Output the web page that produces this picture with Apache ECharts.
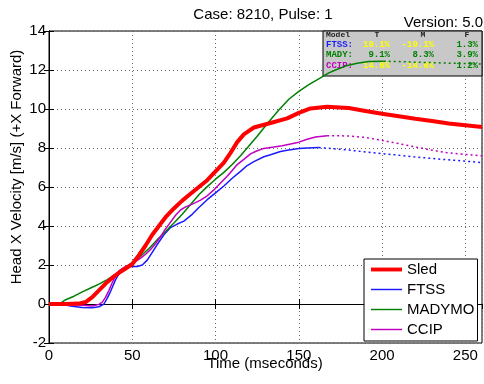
<!DOCTYPE html>
<html>
<head>
<meta charset="utf-8">
<script src="https://cdn.jsdelivr.net/npm/echarts@6/dist/echarts.min.js"></script>
<style>
html,body{margin:0;padding:0;background:#fff;}
#c{width:484px;height:384px;}
</style>
</head>
<body>
<div id="c"></div>
<script>
// ---- data ----
const titleText = 'Case: 8210, Pulse: 1';
const versionText = 'Version: 5.0';
const xName = 'Time (mseconds)';
const yName = 'Head X Velocity [m/s] (+X Forward)';
const legendNames = ['Sled', 'FTSS', 'MADYMO', 'CCIP'];

const sledT = [0,10,18,22,26,30,34,38,42,46,50,54,58,62,66,70,75,80,85,90,95,100,105,109,113,117,123,133,143,150,157,167,180,190,200,210,220,230,240,250,260];
const sledV = [0,0,0.02,0.1,0.35,0.7,1.05,1.35,1.6,1.82,2.05,2.5,3.0,3.55,4.0,4.45,4.9,5.3,5.65,6.0,6.35,6.8,7.25,7.75,8.3,8.7,9.05,9.28,9.52,9.8,10.03,10.12,10.05,9.9,9.76,9.63,9.5,9.38,9.26,9.17,9.08];

const ftssT = [0,10,14,20,26,30,33,35,37,40,43,46,50,53,56,59,62,65,69,73,77,81,86,90,95,100,105,110,115,119,123,129,133,139,143,150,155,162];
const ftssV = [0,-0.05,-0.12,-0.18,-0.19,-0.14,0,0.3,0.65,1.25,1.7,1.88,1.92,1.92,2.0,2.25,2.65,3.05,3.55,3.92,4.1,4.25,4.6,4.95,5.35,5.7,6.05,6.45,6.8,7.1,7.3,7.55,7.65,7.82,7.88,7.97,8.0,8.02];
const ftssDotT = [162,169,179,189,199,209,219,229,239,249,260];
const ftssDotV = [8.02,7.98,7.9,7.81,7.72,7.64,7.55,7.47,7.4,7.33,7.25];

const madyT = [0,5,7,10,15,20,25,30,35,40,45,50,55,60,65,70,75,80,85,90,95,100,105,110,115,120,125,132,138,144,150,156,162,168,172,178,185,192,201];
const madyV = [0,0,0.05,0.22,0.4,0.62,0.82,1.02,1.25,1.52,1.8,2.09,2.45,2.85,3.3,3.72,4.15,4.6,5.1,5.6,6.02,6.4,6.75,7.15,7.6,8.1,8.6,9.35,9.95,10.5,10.9,11.25,11.55,11.85,12.0,12.2,12.35,12.43,12.45];
const madyDotT = [201,210,220,230,240,250,260];
const madyDotV = [12.45,12.43,12.4,12.38,12.35,12.33,12.3];

const ccipT = [0,10,20,26,30,32,34,36,38,40,42,45,48,51,55,58,61,64,67,70,73,76,79,82,85,88,91,95,99,103,107,110,113,117,121,125,129,135,140,145,150,155,160,167];
const ccipV = [0,-0.03,-0.07,-0.1,-0.02,0.1,0.35,0.7,1.1,1.45,1.7,1.88,2.0,2.12,2.35,2.55,2.8,3.1,3.45,3.85,4.2,4.55,4.82,4.98,5.08,5.2,5.33,5.55,5.85,6.2,6.55,6.85,7.15,7.42,7.7,7.86,7.98,8.05,8.12,8.2,8.3,8.45,8.56,8.63];
const ccipDotT = [167,179,189,199,209,219,229,239,249,260];
const ccipDotV = [8.63,8.62,8.55,8.41,8.24,8.07,7.9,7.76,7.68,7.6];

const tableHeader = ['Model', 'T', 'M', 'F'];
const tableRows = [
  ['FTSS:', '19.1%', '-19.1%', '1.3%'],
  ['MADY:', '9.1%', '8.3%', '3.9%'],
  ['CCIP:', '14.6%', '-14.6%', '1.2%']
];

// ---- styling ----
const RED = '#ff0000', BLUE = '#1a1aff', GREEN = '#008000', MAG = '#c000c0', YEL = '#ffff00';
const FONT = 'Liberation Sans, Arial, sans-serif';
const MONO = 'Liberation Mono, Courier New, monospace';
const zip = (t, v) => t.map((x, i) => [x, v[i]]);

const rowColors = [
  [BLUE, YEL, YEL, GREEN],
  [GREEN, GREEN, GREEN, GREEN],
  [MAG, YEL, YEL, GREEN]
];

const tbl = { x: 323, y: 31, w: 159, h: 45 };
const colX = [326, 390, 434, 478];
const hdrX = [326, 377, 423, 467];
const rowY = [34.5, 44.5, 55, 65.5];

const graphic = [
  { type: 'rect', z: 1, shape: { x: tbl.x, y: tbl.y, width: tbl.w, height: tbl.h },
    style: { fill: '#c8c8c8', stroke: '#000', lineWidth: 1 } }
];
tableHeader.forEach((h, i) => graphic.push({
  type: 'text', z: 1, x: hdrX[i], y: rowY[0],
  style: { text: h, fill: '#222', font: 'bold 8px ' + MONO, textAlign: i === 0 ? 'left' : 'center', textVerticalAlign: 'middle' }
}));
tableRows.forEach((r, ri) => r.forEach((cell, ci) => graphic.push({
  type: 'text', z: 1, x: colX[ci], y: rowY[ri + 1],
  style: { text: cell, fill: rowColors[ri][ci], font: 'bold 9px ' + MONO, textAlign: ci === 0 ? 'left' : 'right', textVerticalAlign: 'middle' }
})));
graphic.push(
  { type: 'text', x: 263, y: 15, style: { text: titleText, fill: '#000', font: '15px ' + FONT, textAlign: 'center', textVerticalAlign: 'middle' } },
  { type: 'text', x: 483, y: 22.5, style: { text: versionText, fill: '#000', font: '15px ' + FONT, textAlign: 'right', textVerticalAlign: 'middle' } },
  { type: 'text', x: 265, y: 364, style: { text: xName, fill: '#000', font: '15px ' + FONT, textAlign: 'center', textVerticalAlign: 'middle' } },
  { type: 'text', x: 17, y: 167, rotation: Math.PI / 2, style: { text: yName, fill: '#000', font: '15px ' + FONT, textAlign: 'center', textVerticalAlign: 'middle' } }
);

const axisCommon = {
  axisLine: { show: true, lineStyle: { color: '#000', width: 1 } },
  axisTick: { show: true, inside: true, length: 5, lineStyle: { color: '#000' } }
};
const splitDot = { show: true, lineStyle: { color: '#666', type: [1, 3], width: 1 } };

const thickIcon = 'path://M0,0H32V4H0Z';
const thinIcon = 'path://M0,0H32V1.5H0Z';

const chart = echarts.init(document.getElementById('c'), null, { renderer: 'canvas' });
chart.setOption({
  animation: false,
  backgroundColor: '#fff',
  grid: { left: 49, right: 2, top: 31, bottom: 41, show: true, backgroundColor: '#fff', borderColor: '#000', borderWidth: 1 },
  xAxis: [
    Object.assign({ type: 'value', min: 0, max: 260, interval: 50, position: 'bottom',
      axisLabel: { color: '#000', fontSize: 15, fontFamily: FONT, margin: 5, showMaxLabel: false },
      splitLine: splitDot }, axisCommon),
    Object.assign({ type: 'value', min: 0, max: 260, interval: 50, position: 'top',
      axisLabel: { show: false }, splitLine: { show: false } }, axisCommon)
  ],
  yAxis: [
    Object.assign({ type: 'value', min: -2, max: 14, interval: 2, position: 'left',
      axisLabel: { color: '#000', fontSize: 15, fontFamily: FONT, margin: 3 },
      splitLine: splitDot }, axisCommon),
    Object.assign({ type: 'value', min: -2, max: 14, interval: 2, position: 'right',
      axisLabel: { show: false }, splitLine: { show: false } }, axisCommon)
  ],
  legend: {
    left: 364, top: 259, orient: 'vertical',
    backgroundColor: '#fff', borderColor: '#000', borderWidth: 1, borderRadius: 0,
    padding: [3, 3, 4, 7], itemGap: 5, itemWidth: 31, itemHeight: 14,
    symbolKeepAspect: true,
    textStyle: { color: '#000', fontSize: 15, fontFamily: FONT },
    data: [
      { name: legendNames[0], icon: thickIcon },
      { name: legendNames[1], icon: thinIcon },
      { name: legendNames[2], icon: thinIcon },
      { name: legendNames[3], icon: thinIcon }
    ]
  },
  graphic: graphic,
  series: [
    { name: 'FTSS', type: 'line', symbol: 'none', z: 3, color: BLUE, lineStyle: { color: BLUE, width: 1.5 }, data: zip(ftssT, ftssV) },
    { name: 'FTSS ext', type: 'line', symbol: 'none', z: 3, color: BLUE, lineStyle: { color: BLUE, width: 1.5, type: [2, 3] }, data: zip(ftssDotT, ftssDotV) },
    { name: 'MADYMO', type: 'line', symbol: 'none', z: 3, color: GREEN, lineStyle: { color: GREEN, width: 1.5 }, data: zip(madyT, madyV) },
    { name: 'MADYMO ext', type: 'line', symbol: 'none', z: 3, color: GREEN, lineStyle: { color: GREEN, width: 1.5, type: [2, 3] }, data: zip(madyDotT, madyDotV) },
    { name: 'CCIP', type: 'line', symbol: 'none', z: 3, color: MAG, lineStyle: { color: MAG, width: 1.5 }, data: zip(ccipT, ccipV) },
    { name: 'CCIP ext', type: 'line', symbol: 'none', z: 3, color: MAG, lineStyle: { color: MAG, width: 1.5, type: [2, 3] }, data: zip(ccipDotT, ccipDotV) },
    { name: 'Sled', type: 'line', symbol: 'none', z: 4, color: RED, lineStyle: { color: RED, width: 4 }, data: zip(sledT, sledV) }
  ]
});
</script>
</body>
</html>
